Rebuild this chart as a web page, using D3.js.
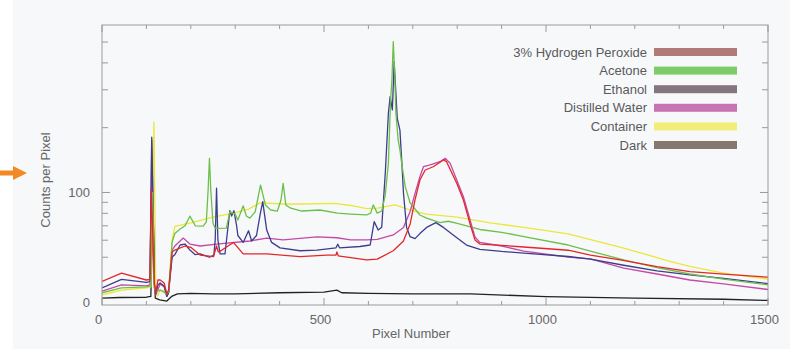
<!DOCTYPE html>
<html>
<head>
<meta charset="utf-8">
<script src="https://cdn.jsdelivr.net/npm/d3@7"></script>
<style>
  html, body { margin: 0; padding: 0; background: #f7f8fa; }
  svg { display: block; font-family: "Liberation Sans", Arial, sans-serif; }
</style>
</head>
<body>
<svg id="chart" width="790" height="349"></svg>
<script>
// series: [pixel number, counts per pixel]
const h2o2 = [[0,38.6],[44,42.2],[100,39.2],[108,39.5],[111,102.7],[114,66.9],[118,38],[121,34.2],[126,39.2],[131,39.2],[140,38],[146,33.8],[150,35.2],[158,52.9],[164,54],[187,56.4],[200,55.6],[221,51.2],[251,50.3],[258,56.4],[262,52.9],[270,54],[296,58.6],[318,51.8],[371,51.8],[446,50.3],[506,51.2],[527,51.2],[529,52.9],[532,50.8],[596,48.6],[620,49],[656,53.6],[679,59.5],[694,71.4],[705,92.3],[716,114.3],[728,127.2],[746,131.7],[769,141.6],[776,139],[799,110.3],[814,92.3],[829,71.4],[840,60.2],[851,57.6],[900,56.8],[950,55.8],[1050,53.9],[1100,51.2],[1167,48.6],[1250,45.2],[1324,42.9],[1400,41.7],[1500,40.4]];

const acetone = [[0,34.2],[44,36],[100,36.4],[110,36.8],[114,100],[118,36],[121,34.5],[131,35.2],[146,33.8],[150,34.5],[158,58.9],[164,64.5],[176,67.6],[187,70],[198,77.6],[210,70],[228,69.8],[235,73],[239,102.7],[242,144.1],[245,102.7],[250,71.9],[255,68.1],[280,68.3],[288,81.2],[300,79.4],[306,74.5],[318,86.7],[325,77.7],[333,76],[345,81.2],[357,108.3],[368,87.5],[380,82.9],[395,82],[403,92],[408,110.3],[414,87.5],[425,84.5],[450,82],[491,82.9],[530,80.2],[560,79.4],[596,78.6],[605,80.2],[611,87.5],[620,80.2],[630,82],[638,97.3],[645,136.6],[650,269],[653,333],[656,502],[659,371],[662,233],[667,175.4],[671,157.6],[675,136.6],[683,106.4],[694,89.4],[716,78.6],[731,76],[761,72.4],[780,73.5],[800,71.8],[851,67.3],[900,65.3],[950,62.4],[1050,57],[1100,53.4],[1175,48.6],[1250,44.7],[1324,41.8],[1400,39.6],[1500,37.2]];

const ethanol = [[0,36],[44,39.5],[100,38.2],[108,38.5],[112,180.5],[115,92],[118,37.2],[121,33.8],[126,37.2],[131,38],[140,36.8],[146,32.9],[150,34.2],[158,50.2],[164,51.4],[176,57],[187,57.6],[198,54],[210,51.4],[221,51.8],[242,50],[252,51.2],[255,60.2],[258,104.6],[261,60.2],[266,51.8],[277,51.8],[283,66.9],[288,82.3],[292,77.7],[297,82.3],[303,70.6],[306,63.1],[318,58.6],[330,66.4],[337,59.5],[348,63.1],[356,78.6],[362,90.6],[371,66.9],[382,58.6],[401,55.3],[446,53.6],[484,54],[527,55.3],[531,57.5],[535,55.3],[581,56.1],[604,57],[613,73.2],[622,66.9],[630,68.9],[638,122.8],[645,233],[649,278.7],[654,242],[658,405],[665,221],[671,195],[675,141.6],[679,99.1],[686,68.8],[694,62.3],[705,61],[716,64.4],[731,68.8],[752,72.4],[769,68.8],[791,63.5],[821,57],[851,54.4],[900,53.2],[950,52.3],[1050,50.4],[1100,49],[1175,45.9],[1250,43.2],[1324,41.4],[1400,39.9],[1500,37.7]];

const water = [[0,34.8],[44,37.2],[100,36.8],[108,37.2],[112,175.4],[115,82.9],[118,36.4],[121,33.4],[131,37.6],[140,36.4],[146,32.9],[150,34.2],[158,54],[164,56.4],[183,61.4],[198,57.6],[221,56.4],[258,57.6],[333,59.5],[371,61.4],[408,60.2],[484,62.2],[529,61.6],[560,60.2],[596,60.2],[620,60.6],[656,63.5],[679,68.8],[694,81.6],[705,99.1],[716,118.4],[724,131.7],[739,134.2],[761,139],[773,144.1],[784,136.6],[799,114.3],[814,95.6],[829,74.5],[840,62.1],[851,58.6],[900,56.4],[950,53.4],[1050,50.1],[1100,49.1],[1175,44.5],[1250,41.8],[1324,39.2],[1400,37.6],[1500,35.4]];

const container = [[0,33.4],[20,34.2],[44,35.2],[70,35.6],[100,36],[110,36.4],[114,92],[117,212.6],[119,92],[121,34.5],[125,33],[131,35.2],[140,34.8],[146,33.4],[150,34.5],[158,60],[164,69.5],[200,72.2],[250,76.9],[296,80.2],[330,83.7],[356,89.4],[408,88.4],[450,88.4],[523,89],[560,87],[596,84.1],[620,84.5],[660,87.5],[694,82.9],[730,79.4],[800,76.8],[874,72.3],[950,68.8],[1050,64.2],[1175,55.2],[1279,47.9],[1324,45.4],[1400,42.2],[1500,39.6]];

const dark = [[0,32.3],[40,32.5],[100,32.6],[110,32.9],[113,60],[115,82.9],[117,55],[120,32.3],[130,31.7],[146,31.3],[158,33],[170,33.8],[200,34],[250,33.8],[300,33.8],[400,34.2],[500,34.4],[529,35.2],[540,34.2],[600,34],[700,33.8],[830,33.8],[1000,32.8],[1200,32.3],[1400,31.9],[1500,31.5]];

const legendNames = ["3% Hydrogen Peroxide", "Acetone", "Ethanol", "Distilled Water", "Container", "Dark"];
const xTickLabels = [0, 500, 1000, 1500];
const xTicks = d3.range(0, 1501, 100);
const yMinorTicks = [50, 60, 70, 80, 90, 200, 300, 400, 500];
const yLabelValues = [30, 100];
const yLabelText = ["0", "100"];

// styles
const seriesList = [h2o2, acetone, ethanol, water, container, dark];
const lineColors = ["#e3262b", "#6cc04a", "#3d3d8c", "#c44aa6", "#e9e83a", "#222222"];
const swatchColors = ["#b07a78", "#7ccc6a", "#857580", "#c874b4", "#f0ee78", "#857670"];
const drawOrder = [5, 4, 3, 2, 1, 0];

const svg = d3.select("#chart");
const W = 790, H = 349;
const plotLeft = 102, plotRight = 768, plotTop = 25, plotBottom = 305;

svg.append("rect").attr("width", W).attr("height", H).attr("fill", "#f7f8fa");
svg.append("rect").attr("width", 13).attr("height", H).attr("fill", "#ffffff");

const x = d3.scaleLinear().domain([0, 1500]).range([plotLeft, plotRight]);
const y = d3.scaleLog().domain([30, 600]).range([plotBottom, plotTop]);

// clip for lines
svg.append("clipPath").attr("id", "plot")
    .append("rect").attr("x", plotLeft).attr("y", plotTop)
    .attr("width", plotRight - plotLeft).attr("height", plotBottom - plotTop);

const line = d3.line()
    .x(d => x(d[0]))
    .y(d => y(d[1]));

const lines = svg.append("g").attr("clip-path", "url(#plot)");
for (let i of drawOrder) {
    lines.append("path")
        .datum(seriesList[i])
        .attr("d", line)
        .attr("fill", "none")
        .attr("stroke", lineColors[i])
        .attr("stroke-width", 1.3)
        .attr("stroke-linejoin", "round");
}

// frame
svg.append("rect")
    .attr("x", plotLeft).attr("y", plotTop)
    .attr("width", plotRight - plotLeft).attr("height", plotBottom - plotTop)
    .attr("fill", "none").attr("stroke", "#9a9a9a").attr("stroke-width", 1);

// inward ticks on all sides
const tickLen = d => (d % 500 === 0 ? 7 : 4);
const xTickGroup = svg.append("g").attr("stroke", "#9a9a9a").attr("stroke-width", 1);
xTicks.forEach(t => {
    xTickGroup.append("line").attr("x1", x(t)).attr("x2", x(t)).attr("y1", plotBottom).attr("y2", plotBottom - tickLen(t));
    xTickGroup.append("line").attr("x1", x(t)).attr("x2", x(t)).attr("y1", plotTop).attr("y2", plotTop + tickLen(t));
});
const yTickGroup = svg.append("g").attr("stroke", "#9a9a9a").attr("stroke-width", 1);
yMinorTicks.concat([100]).forEach(t => {
    const len = t === 100 ? 8 : 6;
    yTickGroup.append("line").attr("x1", plotLeft).attr("x2", plotLeft + len).attr("y1", y(t)).attr("y2", y(t));
    yTickGroup.append("line").attr("x1", plotRight).attr("x2", plotRight - len).attr("y1", y(t)).attr("y2", y(t));
});

// tick labels
const xAxis = svg.append("g")
    .attr("transform", `translate(0,${plotBottom})`)
    .call(d3.axisBottom(x).tickValues(xTickLabels).tickSize(0).tickPadding(10).tickFormat(d3.format("d")));
xAxis.select(".domain").remove();
xAxis.selectAll("text").attr("dx", -4).attr("fill", "#666").style("font-size", "13px")
    .style("font-family", "'Liberation Sans', Arial, sans-serif");

const yAxis = svg.append("g")
    .attr("transform", `translate(${plotLeft},0)`)
    .call(d3.axisLeft(y).tickValues(yLabelValues).tickSize(0).tickPadding(12)
        .tickFormat((d, i) => yLabelText[i]));
yAxis.select(".domain").remove();
yAxis.selectAll("text").attr("fill", "#666").attr("dy", (d, i) => i === 0 ? "0.1em" : "0.32em")
    .style("font-size", "13px").style("font-family", "'Liberation Sans', Arial, sans-serif");

// axis titles
svg.append("text")
    .attr("x", 411).attr("y", 338)
    .attr("text-anchor", "middle")
    .attr("fill", "#666").style("font-size", "13px")
    .text("Pixel Number");
svg.append("text")
    .attr("transform", "translate(50,180) rotate(-90)")
    .attr("text-anchor", "middle")
    .attr("fill", "#666").style("font-size", "13px")
    .text("Counts per Pixel");

// orange arrow marker
svg.append("path")
    .attr("d", "M0,170.5 L13,170.5 L13,166 L27,173 L13,180 L13,175.5 L0,175.5 Z")
    .attr("fill", "#f28a24");

// legend
const legend = svg.append("g");
legendNames.forEach((name, i) => {
    const cy = 52 + i * 18.6;
    legend.append("text")
        .attr("x", 647).attr("y", cy)
        .attr("dy", "0.35em")
        .attr("text-anchor", "end")
        .attr("fill", "#5a5a5a").style("font-size", "13px")
        .text(name);
    legend.append("rect")
        .attr("x", 654).attr("y", cy - 4)
        .attr("width", 83).attr("height", 8)
        .attr("fill", swatchColors[i]);
});
</script>
</body>
</html>
